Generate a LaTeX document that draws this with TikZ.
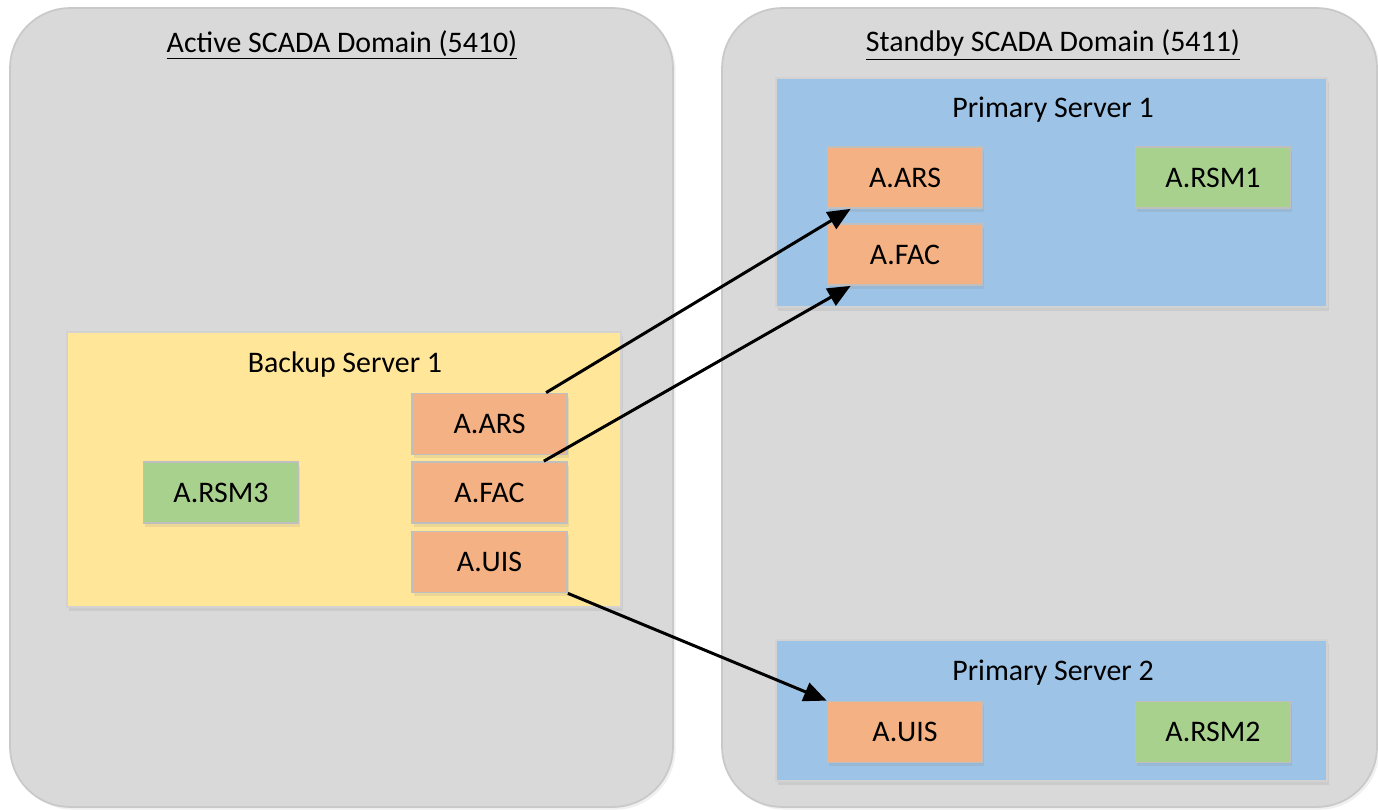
\documentclass[tikz,border=0pt]{standalone}
\usepackage{fontspec}
\setmainfont{Carlito}
\usepackage{tikz}
\usetikzlibrary{arrows.meta,shadows}

\definecolor{domaingray}{HTML}{D9D9D9}
\definecolor{domainline}{HTML}{C9C9C9}
\definecolor{backupyellow}{HTML}{FFE699}
\definecolor{primaryblue}{HTML}{9DC3E6}
\definecolor{procorange}{HTML}{F4B183}
\definecolor{rsmgreen}{HTML}{A9D18E}
\definecolor{boxline}{HTML}{BFBFBF}

\begin{document}
\begin{tikzpicture}[x=0.02cm, y=-0.02cm,
  every node/.style = {font=\fontsize{17}{20}\selectfont},
  scadabox/.style = {draw=domainline, line width=1pt, fill=domaingray, rounded corners=1.2cm,
    drop shadow={opacity=0.12, shadow xshift=1.5pt, shadow yshift=-1.5pt}},
  server/.style = {draw=boxline!70, line width=0.8pt,
    drop shadow={opacity=0.15, shadow xshift=1pt, shadow yshift=-2.5pt}},
  proc/.style = {draw=boxline, line width=1pt, minimum width=3.1cm, minimum height=1.22cm,
    drop shadow={opacity=0.15, shadow xshift=1pt, shadow yshift=-2pt}},
  link/.style = {line width=1.7pt, -{Triangle[length=13pt,width=11pt]}}]
  \useasboundingbox (0,0) rectangle (1378,810);

  % domains
  \node[scadabox, minimum width=13.26cm, minimum height=15.98cm] (active) at (341.5,407.5) {};
  \node[scadabox, minimum width=13.1cm, minimum height=15.98cm] (standby) at (1049.5,407.5) {};
  \node (activeT) at (342,45) {\underline{Active SCADA Domain (5410)}};
  \node (standbyT) at (1053,45) {\underline{Standby SCADA Domain (5411)}};

  % servers
  \node[server, fill=backupyellow, minimum width=11.08cm, minimum height=5.5cm] (backup) at (344,469.5) {};
  \node (backupT) at (345,365) {Backup Server 1};
  \node[server, fill=primaryblue, minimum width=11.02cm, minimum height=4.58cm] (prim1) at (1051.5,192.5) {};
  \node (prim1T) at (1053,110) {Primary Server 1};
  \node[server, fill=primaryblue, minimum width=11.02cm, minimum height=2.82cm] (prim2) at (1051.5,710.5) {};
  \node (prim2T) at (1053,673) {Primary Server 2};

  % components
  \node[proc, fill=rsmgreen] (rsm3) at (221,492.5) {A.RSM3};
  \node[proc, fill=procorange] (bARS) at (489.5,424) {A.ARS};
  \node[proc, fill=procorange] (bFAC) at (489.5,492.5) {A.FAC};
  \node[proc, fill=procorange] (bUIS) at (489.5,562) {A.UIS};
  \node[proc, fill=procorange] (pARS) at (905,177.5) {A.ARS};
  \node[proc, fill=procorange] (pFAC) at (905,254.5) {A.FAC};
  \node[proc, fill=rsmgreen] (rsm1) at (1213,177.5) {A.RSM1};
  \node[proc, fill=procorange] (pUIS) at (905,732) {A.UIS};
  \node[proc, fill=rsmgreen] (rsm2) at (1213,732) {A.RSM2};

  \draw[link] (bARS.29) -- (pARS.-150);
  \draw[link] (bFAC.30) -- (pFAC.-150);
  \draw[link] (bUIS.south east) -- (pUIS.north west);
\end{tikzpicture}
\end{document}
